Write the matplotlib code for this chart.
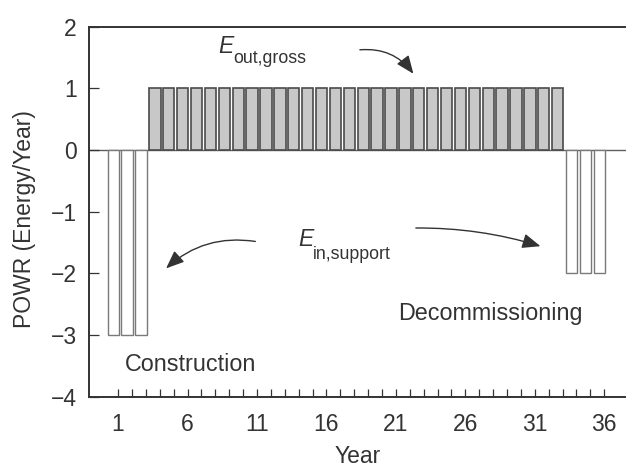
import matplotlib
matplotlib.use('Agg')
import matplotlib.pyplot as plt
from matplotlib.patches import FancyArrowPatch
from matplotlib.ticker import MultipleLocator, FixedLocator

plt.rcParams['font.family'] = ['Liberation Sans', 'DejaVu Sans']

# Datos
years = list(range(1, 37))
powr = [-3] * 3 + [1] * 30 + [-2] * 3
tick_years = [1, 6, 11, 16, 21, 26, 31, 36]

ink = '#333333'

fig = plt.figure(figsize=(6.26, 4.68), dpi=100)
ax = fig.add_axes([0.1427, 0.1524, 0.8573, 0.7906])

# Línea del cero
ax.axhline(0, color='#606060', linewidth=1.0, zorder=1)

# Barras
for yr, v in zip(years, powr):
    if v > 0:
        fc, ec, lw = '#c8c8c8', '#4a4a4a', 1.2
    else:
        fc, ec, lw = 'white', '#7a7a7a', 1.0
    ax.bar(yr - 0.35, v, width=0.82, color=fc, edgecolor=ec, linewidth=lw, zorder=2)

# Ejes
ax.set_xlim(-1.07, 37.57)
ax.set_ylim(-4, 2)
ax.spines['right'].set_visible(False)
for s in ['left', 'bottom', 'top']:
    ax.spines[s].set_color(ink)
    ax.spines[s].set_linewidth(1.4)

ax.xaxis.set_major_locator(FixedLocator(tick_years))
ax.xaxis.set_minor_locator(FixedLocator(years))
ax.yaxis.set_major_locator(MultipleLocator(1))
ax.tick_params(axis='x', which='both', direction='in', length=5.5, width=0.9,
               color=ink, labelsize=16.5, labelcolor=ink, pad=12, top=False)
ax.tick_params(axis='y', direction='in', length=7, width=0.9, color=ink,
               labelsize=16.5, labelcolor=ink, pad=9, right=False)

ax.set_xlabel('Year', fontsize=16.5, color=ink, labelpad=6)
ax.set_ylabel('POWR (Energy/Year)', fontsize=16.5, color=ink)
ax.yaxis.set_label_coords(-0.1, 0.48)

# Textos
ax.text(8.2, 1.573, 'E', fontsize=16.5, style='italic', color=ink, va='baseline')
ax.text(9.28, 1.406, 'out,gross', fontsize=12.8, color=ink, va='baseline')
ax.text(13.96, -1.557, 'E', fontsize=16.5, style='italic', color=ink, va='baseline')
ax.text(15.04, -1.773, 'in,support', fontsize=12.8, color=ink, va='baseline')
ax.text(1.5, -3.584, 'Construction', fontsize=16.8, color=ink, va='baseline')
ax.text(21.16, -2.757, 'Decommissioning', fontsize=16.8, color=ink, va='baseline')

# Flechas
arrows = [
    ((18.21, 1.62), (22.38, 1.20), 'arc3,rad=-0.3'),
    ((11.08, -1.49), (4.31, -1.95), 'arc3,rad=0.25'),
    ((22.24, -1.265), (31.6, -1.573), 'arc3,rad=-0.08'),
]
for a, b, cs in arrows:
    ax.add_patch(FancyArrowPatch(a, b, connectionstyle=cs,
                                 arrowstyle='-|>,head_length=11,head_width=4.5',
                                 color=ink, linewidth=1.0, mutation_scale=1,
                                 zorder=3))

plt.savefig('out.png', dpi=100)
plt.close()
